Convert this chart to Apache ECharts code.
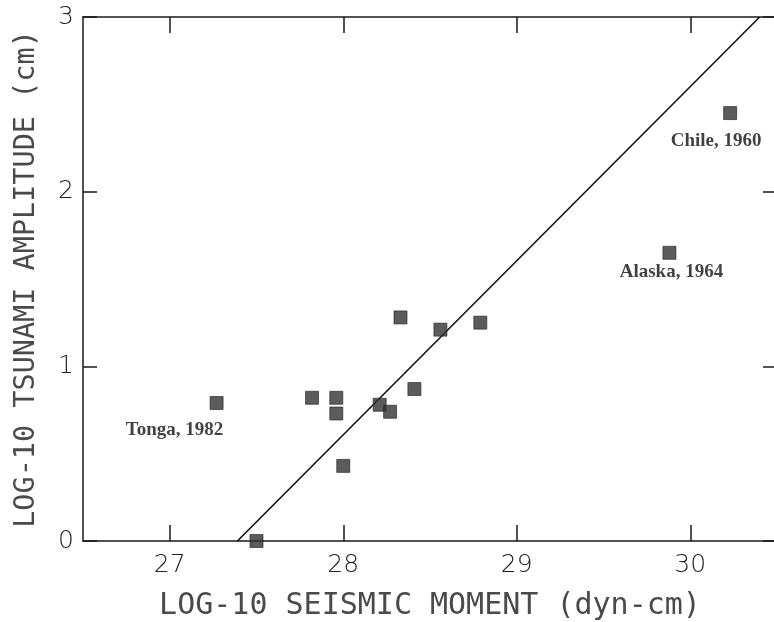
<!DOCTYPE html>
<html>
<head>
<meta charset="utf-8">
<script src="https://cdn.jsdelivr.net/npm/echarts@6/dist/echarts.min.js"></script>
<style>
  html, body { margin: 0; padding: 0; background: #fff; }
  #chart { width: 774px; height: 622px; }
</style>
</head>
<body>
<div id="chart"></div>
<script>
// Log-10 seismic moment (dyn-cm) of each event
const momentLog = [27.50, 27.82, 27.96, 27.96, 28.00, 28.21, 28.27, 28.33, 28.41, 28.56, 28.79];
// Log-10 tsunami amplitude (cm) of each event
const amplitudeLog = [0.00, 0.82, 0.82, 0.73, 0.43, 0.78, 0.74, 1.28, 0.87, 1.21, 1.25];

// Named events
const eventNames = ['Tonga, 1982', 'Alaska, 1964', 'Chile, 1960'];
const eventMoment = [27.27, 29.88, 30.23];
const eventAmplitude = [0.79, 1.65, 2.45];

// End points of the fitted line
const fitMoment = [27.39, 30.40];
const fitAmplitude = [0.00, 3.00];

// Tick values
const xTicks = [27, 28, 29, 30];
const yTicks = [0, 1, 2, 3];

// Label offsets from each named square (px)
const labelOffsets = [[-42, 27], [2, 19], [-14, 28]];

const axisColor = '#1a1a1a';
const tickFont = { fontFamily: 'DejaVu Sans', fontWeight: 200, fontSize: 25, color: '#222' };
const nameFontX = { fontFamily: 'DejaVu Sans Mono', fontWeight: 200, fontSize: 30, color: '#4a4a4a' };
const nameFontY = { fontFamily: 'DejaVu Sans Mono', fontWeight: 200, fontSize: 28.5, color: '#4a4a4a' };

const chart = echarts.init(document.getElementById('chart'), null, { renderer: 'canvas' });

const xCommon = {
  type: 'value', min: 26.5, max: 30.5,
  splitLine: { show: false },
  axisLine: { show: true, onZero: false, lineStyle: { color: axisColor, width: 1.5 } },
  axisTick: { show: true, inside: true, length: 16, customValues: xTicks, lineStyle: { color: axisColor, width: 1.5 } }
};
const yCommon = {
  type: 'value', min: 0, max: 3,
  splitLine: { show: false },
  axisLine: { show: true, onZero: false, lineStyle: { color: axisColor, width: 1.5 } },
  axisTick: { show: true, inside: true, length: 14, customValues: yTicks, lineStyle: { color: axisColor, width: 1.5 } }
};

chart.setOption({
  animation: false,
  backgroundColor: '#fff',
  grid: { left: 83, top: 17, width: 694, height: 524, containLabel: false, outerBoundsMode: 'none' },
  xAxis: [
    Object.assign({}, xCommon, {
      position: 'bottom',
      name: 'LOG-10 SEISMIC MOMENT (dyn-cm)',
      nameLocation: 'middle', nameGap: 50,
      nameTextStyle: nameFontX,
      axisLabel: Object.assign({ show: true, margin: 12, customValues: xTicks }, tickFont)
    }),
    Object.assign({}, xCommon, { position: 'top', axisLabel: { show: false } })
  ],
  yAxis: [
    Object.assign({}, yCommon, {
      position: 'left',
      name: 'LOG-10 TSUNAMI AMPLITUDE (cm)',
      nameLocation: 'middle', nameGap: 42,
      nameTextStyle: nameFontY,
      axisLabel: Object.assign({ show: true, margin: 9, customValues: yTicks }, tickFont)
    }),
    Object.assign({}, yCommon, { position: 'right', axisLabel: { show: false } })
  ],
  series: [
    {
      type: 'line',
      data: fitMoment.map((x, i) => [x, fitAmplitude[i]]),
      symbol: 'none',
      lineStyle: { color: '#111', width: 1.6 },
      z: 2
    },
    {
      type: 'scatter',
      data: momentLog.map((x, i) => [x, amplitudeLog[i]]),
      symbol: 'rect', symbolSize: 13,
      itemStyle: { color: '#333', borderColor: '#222', borderWidth: 0.8 },
      z: 3
    },
    {
      type: 'scatter',
      data: eventNames.map((n, i) => ({
        name: n,
        value: [eventMoment[i], eventAmplitude[i]],
        label: { offset: labelOffsets[i] }
      })),
      symbol: 'rect', symbolSize: 13,
      itemStyle: { color: '#333', borderColor: '#222', borderWidth: 0.8 },
      label: {
        show: true, position: 'inside', formatter: p => p.name,
        fontFamily: 'Liberation Serif', fontWeight: 'bold', fontSize: 19, color: '#111'
      },
      z: 3
    }
  ]
});
</script>
</body>
</html>
